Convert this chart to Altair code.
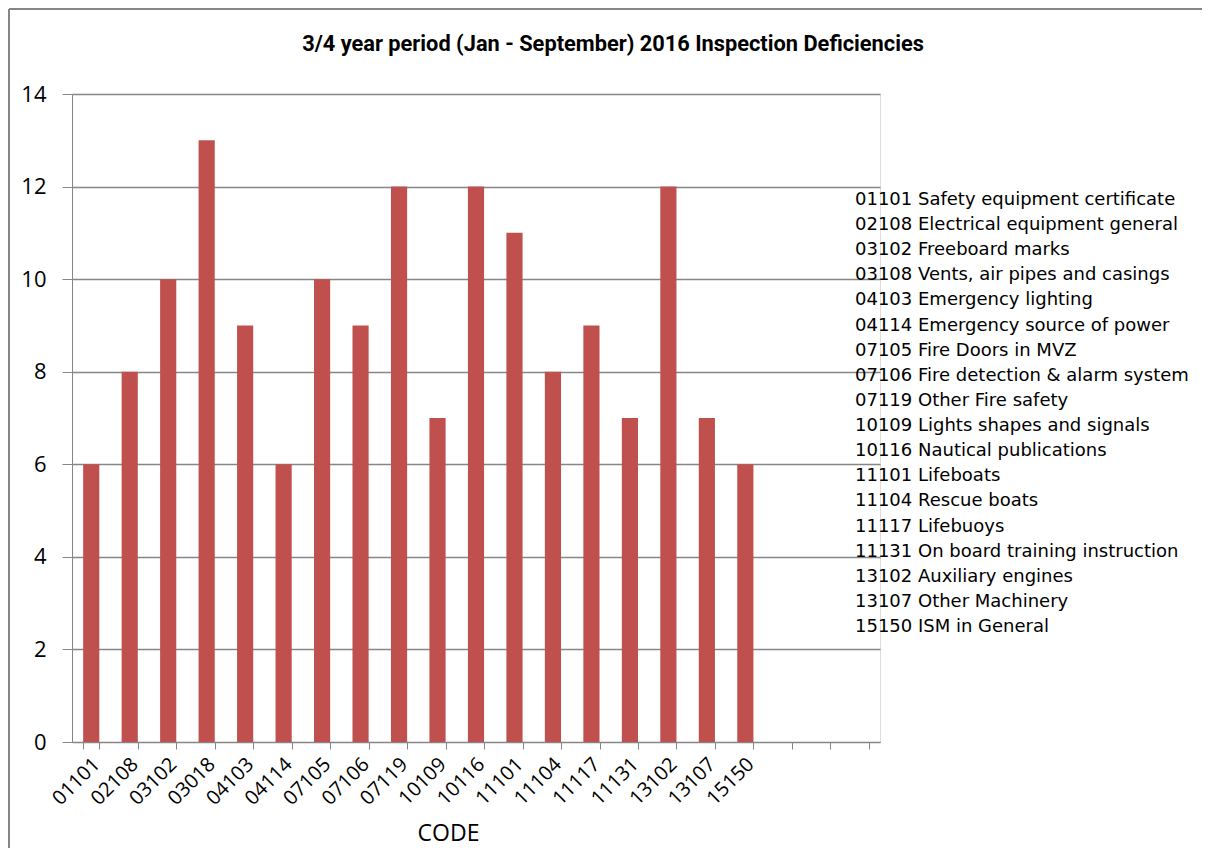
import altair as alt
import pandas as pd

codes = ["01101", "02108", "03102", "03018", "04103", "04114", "07105", "07106", "07119",
         "10109", "10116", "11101", "11104", "11117", "11131", "13102", "13107", "15150"]
counts = [6, 8, 10, 13, 9, 6, 10, 9, 12, 7, 12, 11, 8, 9, 7, 12, 7, 6]
empty_slots = [" ", "  ", "   "]

legend_lines = [
    "01101 Safety equipment certificate",
    "02108 Electrical equipment general",
    "03102 Freeboard marks",
    "03108 Vents, air pipes and casings",
    "04103 Emergency lighting",
    "04114 Emergency source of power",
    "07105 Fire Doors in MVZ",
    "07106 Fire detection & alarm system",
    "07119 Other Fire safety",
    "10109 Lights shapes and signals",
    "10116 Nautical publications",
    "11101 Lifeboats",
    "11104 Rescue boats",
    "11117 Lifebuoys",
    "11131 On board training instruction",
    "13102 Auxiliary engines",
    "13107 Other Machinery",
    "15150 ISM in General",
]

title_text = "3/4 year period (Jan - September) 2016 Inspection Deficiencies"
y_ticks = [0, 2, 4, 6, 8, 10, 12, 14]

df = pd.DataFrame({"code": codes, "count": counts})
legend_df = pd.DataFrame({"i": list(range(len(legend_lines))), "line": legend_lines})

GRAY = "#868686"
W, H = 808, 648

bars = alt.Chart(df).mark_bar(color="#C0504D").encode(
    x=alt.X("code:N", sort=None,
            scale=alt.Scale(domain=codes + empty_slots, paddingInner=0.58, paddingOuter=0.29),
            axis=alt.Axis(title="CODE", tickBand="extent", tickSize=7, tickColor=GRAY,
                          domainColor=GRAY, labelAngle=-45, labelAlign="right",
                          labelBaseline="middle", labelFont="Open Sans", labelFontSize=20,
                          labelColor="black", labelPadding=12, labelOffset=5,
                          titleFont="Open Sans", titleFontSize=23, titleFontWeight="normal",
                          titleColor="black", titleX=376, titleY=91, titleBaseline="middle",
                          titleAnchor="start", titleAlign="center", grid=False)),
    y=alt.Y("count:Q", scale=alt.Scale(domain=[0, 14]),
            axis=alt.Axis(title=None, values=y_ticks, grid=True, gridColor=GRAY, gridWidth=1.3,
                          domainColor=GRAY, tickColor=GRAY, tickSize=10, labelFont="Open Sans",
                          labelFontSize=22, labelColor="black", labelPadding=16)),
)

legend = alt.Chart(legend_df).mark_text(align="left", baseline="middle", font="DejaVu Sans",
                                        fontSize=18, color="black").encode(
    x=alt.value(783),
    y=alt.Y("i:O", scale=alt.Scale(range=[106, 533], padding=0), axis=None),
    text="line:N",
)

frame_data = alt.Data(values=[{"t": title_text}])
title = alt.Chart(frame_data).mark_text(font="Roboto", fontSize=21.8,
                                        fontWeight="bold", color="black", align="center",
                                        baseline="middle").encode(
    x=alt.value(541), y=alt.value(-50), text="t:N")
top_border = alt.Chart(frame_data).mark_rule(color=GRAY, strokeWidth=2).encode(
    x=alt.value(-63), x2=alt.value(1140), y=alt.value(-85))
left_border = alt.Chart(frame_data).mark_rule(color=GRAY, strokeWidth=2).encode(
    x=alt.value(-63), y=alt.value(-85), y2=alt.value(770))

chart = alt.layer(bars, legend, title, top_border, left_border).resolve_scale(y="independent").properties(
    width=W, height=H,
    autosize=alt.AutoSizeParams(type="none"),
    padding={"left": 64, "top": 86, "right": 322, "bottom": 106},
).configure_view(stroke=None).configure(background="white")

chart.save("out.html", embed_options={"renderer": "svg", "actions": False})
